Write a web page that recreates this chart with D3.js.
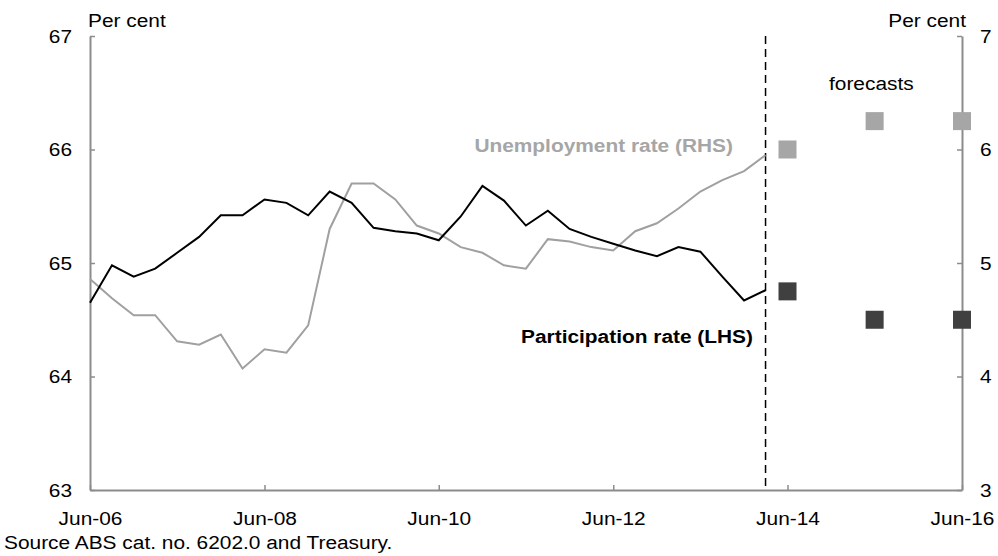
<!DOCTYPE html>
<html>
<head>
<meta charset="utf-8">
<script src="https://cdn.jsdelivr.net/npm/d3@7"></script>
<style>
  body { margin: 0; background: #fff; }
  text { font-family: "Liberation Sans", Arial, sans-serif; }
</style>
</head>
<body>
<svg id="chart" width="998" height="556"></svg>
<script>
// Quarterly observations, Jun-06 to Mar-14
const quarters = [
  "2006-06", "2006-09", "2006-12", "2007-03", "2007-06", "2007-09", "2007-12", "2008-03",
  "2008-06", "2008-09", "2008-12", "2009-03", "2009-06", "2009-09", "2009-12", "2010-03",
  "2010-06", "2010-09", "2010-12", "2011-03", "2011-06", "2011-09", "2011-12", "2012-03",
  "2012-06", "2012-09", "2012-12", "2013-03", "2013-06", "2013-09", "2013-12", "2014-03"
];
// Participation rate (LHS)
const participation = [
  64.65, 64.98, 64.88, 64.95, 65.09, 65.23, 65.42, 65.42,
  65.56, 65.53, 65.42, 65.63, 65.53, 65.31, 65.28, 65.26,
  65.20, 65.41, 65.68, 65.55, 65.33, 65.46, 65.30, 65.23,
  65.17, 65.11, 65.06, 65.14, 65.10, 64.88, 64.67, 64.76
];
// Unemployment rate (RHS)
const unemployment = [
  4.86, 4.69, 4.54, 4.54, 4.31, 4.28, 4.37, 4.07,
  4.24, 4.21, 4.45, 5.30, 5.70, 5.70, 5.56, 5.33,
  5.26, 5.14, 5.09, 4.98, 4.95, 5.21, 5.19, 5.14,
  5.11, 5.28, 5.35, 5.48, 5.63, 5.73, 5.81, 5.95
];
// Forecasts
const forecastYears = ["2014-06", "2015-06", "2016-06"];
const participationForecast = [64.75, 64.5, 64.5];
const unemploymentForecast = [6.0, 6.25, 6.25];

const xTickLabels = ["Jun-06", "Jun-08", "Jun-10", "Jun-12", "Jun-14", "Jun-16"];
const leftTicks = [63, 64, 65, 66, 67];
const rightTicks = [3, 4, 5, 6, 7];
const forecastStart = "2014-03";

const parse = d3.timeParse("%Y-%m");
const fmt = d3.timeFormat("%b-%y");

const margin = {top: 36, right: 36, bottom: 66, left: 90};
const width = 998, height = 556;
const innerWidth = width - margin.left - margin.right;
const innerHeight = height - margin.top - margin.bottom;

// the original text is slightly wide, stretch it a touch
const sx = 1.16;
const fontSize = "18px";

const svg = d3.select("#chart");
const g = svg.append("g").attr("transform", `translate(${margin.left},${margin.top})`);

const x = d3.scaleTime()
  .domain([parse("2006-06"), parse("2016-06")])
  .range([0, innerWidth]);
const yL = d3.scaleLinear().domain([63, 67]).range([innerHeight, 0]);
const yR = d3.scaleLinear().domain([3, 7]).range([innerHeight, 0]);

const axisColor = "#8c8c8c";

// Axes
const xAxis = g.append("g")
  .attr("transform", `translate(0,${innerHeight})`)
  .call(d3.axisBottom(x)
    .tickValues(xTickLabels.map(d => d3.timeParse("%b-%y")(d)))
    .tickFormat(fmt)
    .tickSizeInner(-5).tickSizeOuter(0).tickPadding(22));

const leftAxis = g.append("g")
  .call(d3.axisLeft(yL).tickValues(leftTicks).tickFormat(d3.format("d"))
    .tickSizeInner(-5).tickSizeOuter(0));

const rightAxis = g.append("g")
  .attr("transform", `translate(${innerWidth},0)`)
  .call(d3.axisRight(yR).tickValues(rightTicks).tickFormat(d3.format("d"))
    .tickSizeInner(-5).tickSizeOuter(0));

[xAxis, leftAxis, rightAxis].forEach(a => {
  a.select(".domain").attr("stroke", axisColor).attr("stroke-width", 2);
  a.selectAll(".tick line").attr("stroke", axisColor).attr("stroke-width", 1.5);
  a.selectAll(".tick text").attr("fill", "#000").style("font-size", fontSize);
});
xAxis.selectAll(".tick text").attr("transform", `scale(${sx},1)`);
leftAxis.selectAll(".tick text").attr("x", -18 / sx).attr("dy", "0.35em")
  .attr("transform", `scale(${sx},1)`);
rightAxis.selectAll(".tick text").attr("x", 18 / sx).attr("dy", "0.35em")
  .attr("transform", `scale(${sx},1)`);

// Forecast divider
g.append("line")
  .attr("x1", x(parse(forecastStart))).attr("x2", x(parse(forecastStart)))
  .attr("y1", 0).attr("y2", innerHeight)
  .attr("stroke", "#000").attr("stroke-width", 1.5)
  .attr("stroke-dasharray", "8,5");

// Lines
const data = quarters.map((q, i) => ({date: parse(q), part: participation[i], unemp: unemployment[i]}));

g.append("path")
  .datum(data)
  .attr("fill", "none").attr("stroke", "#a0a0a0").attr("stroke-width", 2)
  .attr("d", d3.line().x(d => x(d.date)).y(d => yR(d.unemp)));

g.append("path")
  .datum(data)
  .attr("fill", "none").attr("stroke", "#000").attr("stroke-width", 2)
  .attr("d", d3.line().x(d => x(d.date)).y(d => yL(d.part)));

// Forecast markers
const sq = 18;
g.selectAll(".unemp-fc")
  .data(forecastYears.map((d, i) => ({date: parse(d), v: unemploymentForecast[i]})))
  .join("rect")
  .attr("class", "unemp-fc")
  .attr("x", d => x(d.date) - sq / 2).attr("y", d => yR(d.v) - sq / 2)
  .attr("width", sq).attr("height", sq).attr("fill", "#a6a6a6");

g.selectAll(".part-fc")
  .data(forecastYears.map((d, i) => ({date: parse(d), v: participationForecast[i]})))
  .join("rect")
  .attr("class", "part-fc")
  .attr("x", d => x(d.date) - sq / 2).attr("y", d => yL(d.v) - sq / 2)
  .attr("width", sq).attr("height", sq).attr("fill", "#404040");

// Labels
function label(px, py, txt, anchor = "start", weight = "normal", fill = "#000") {
  svg.append("text")
    .attr("transform", `translate(${px},${py}) scale(${sx},1)`)
    .attr("text-anchor", anchor)
    .style("font-size", fontSize).style("font-weight", weight)
    .attr("fill", fill)
    .text(txt);
}

label(88, 27, "Per cent");
label(966, 27, "Per cent", "end");
label(829, 90, "forecasts");
label(733, 152, "Unemployment rate (RHS)", "end", "bold", "#a6a6a6");
label(753, 343, "Participation rate (LHS)", "end", "bold");
label(4, 549, "Source ABS cat. no. 6202.0 and Treasury.");
</script>
</body>
</html>
